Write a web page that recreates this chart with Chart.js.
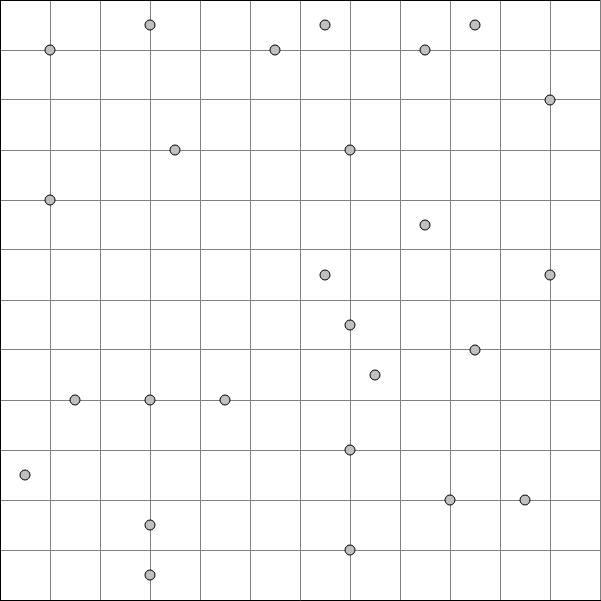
<!DOCTYPE html>
<html lang="en">
<head>
    <meta charset="UTF-8">
    <title>Scatter Grid</title>
    <script src="https://cdn.jsdelivr.net/npm/chart.js"></script>
    <style>
        body { margin: 0; background: #fff; }
        #chart { display: block; }
    </style>
</head>
<body>
    <canvas id="chart" width="601" height="601"></canvas>

    <script>
        // point positions in grid units (0..12 on both axes)
        var xValues = [3, 6.5, 9.5, 1, 5.5, 8.5, 11, 3.5, 7, 1, 8.5, 6.5, 11, 7, 9.5, 7.5, 1.5, 3, 4.5, 7, 0.5, 9, 10.5, 3, 7, 3];
        var yValues = [11.5, 11.5, 11.5, 11, 11, 11, 10, 9, 9, 8, 7.5, 6.5, 6.5, 5.5, 5, 4.5, 4, 4, 4, 3, 2.5, 2, 2, 1.5, 1, 0.5];
        var axisMin = 0;
        var axisMax = 12;

        var points = xValues.map(function(x, i) {
            return { x: x, y: yValues[i] };
        });

        var ctx = document.getElementById('chart').getContext('2d');
        new Chart(ctx, {
            type: 'scatter',
            data: {
                datasets: [{
                    data: points,
                    pointRadius: 5,
                    pointHoverRadius: 5,
                    backgroundColor: '#c0c0c0',
                    borderColor: '#000000',
                    borderWidth: 1,
                    clip: false
                }]
            },
            options: {
                responsive: false,
                animation: false,
                layout: { autoPadding: false, padding: { top: 0, left: 0, right: 1, bottom: 1 } },
                plugins: {
                    legend: { display: false },
                    tooltip: { enabled: false }
                },
                scales: {
                    x: {
                        type: 'linear',
                        min: axisMin,
                        max: axisMax,
                        ticks: { display: false, stepSize: 1 },
                        grid: {
                            drawTicks: false,
                            color: '#808080',
                            lineWidth: 1
                        },
                        border: { display: true, color: '#000000', width: 1 }
                    },
                    y: {
                        type: 'linear',
                        min: axisMin,
                        max: axisMax,
                        ticks: { display: false, stepSize: 1 },
                        grid: {
                            drawTicks: false,
                            color: function(c) {
                                return c.tick && c.tick.value === axisMax ? '#000000' : '#808080';
                            },
                            lineWidth: function(c) {
                                return c.tick && c.tick.value === axisMax ? 2 : 1;
                            }
                        },
                        border: { display: true, color: '#000000', width: 2 }
                    }
                }
            }
        });
    </script>
</body>
</html>
